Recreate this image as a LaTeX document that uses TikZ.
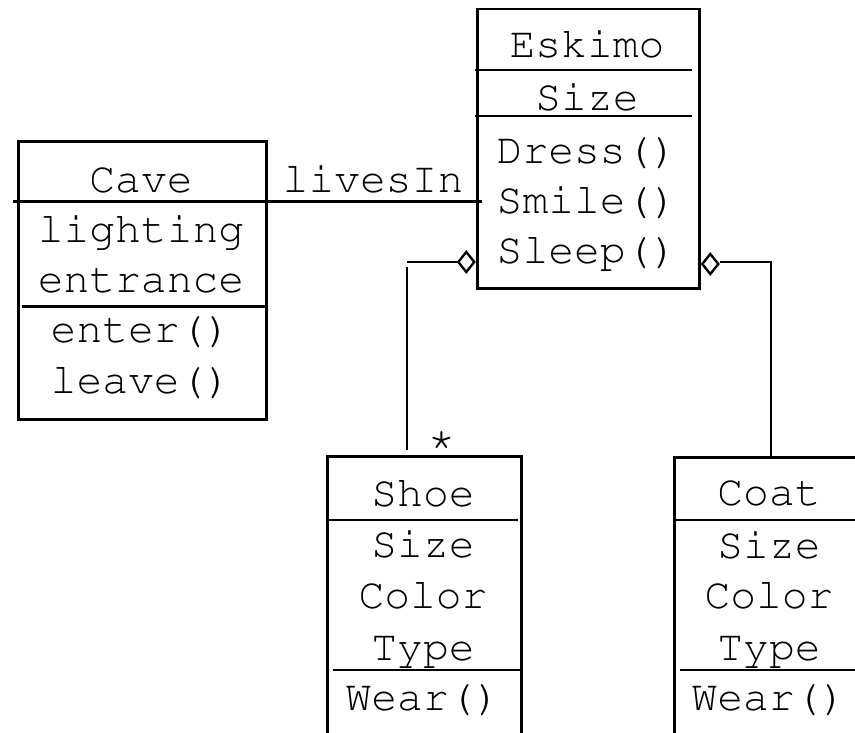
\documentclass[tikz,border=0pt]{standalone}
\usepackage[T1]{fontenc}
\newcommand\umlfont{\fontencoding{T1}\fontfamily{pcr}\selectfont}
\usetikzlibrary{shapes.geometric,calc}
\begin{document}
\begin{tikzpicture}[x=1pt,y=-1pt,
  umlbox/.style={draw, rectangle, line width=2.6pt, inner sep=0pt, anchor=north west},
  rule/.style={line width=2.6pt},
  conn/.style={line width=2.6pt},
  lbl/.style={font=\umlfont\fontsize{43}{50}\selectfont, anchor=base, inner sep=0pt},
  agg/.style={draw, diamond, fill=white, line width=2.4pt, inner sep=0pt,
              minimum width=17pt, minimum height=21pt}]
\clip (0,0) rectangle (855,732);

% class frames
\node[umlbox, minimum width=222pt, minimum height=279.5pt] (eskimo) at (476,7.5) {};
\node[umlbox, minimum width=248pt, minimum height=278pt] (cave) at (17,140) {};
\node[umlbox, minimum width=194pt, minimum height=345pt] (shoe) at (326,455) {};
\node[umlbox, minimum width=193pt, minimum height=345pt] (coat) at (673,456) {};

% Eskimo
\node[lbl] (eskimoName) at (587,57) {Eskimo};
\node[lbl] (eskimoSize) at (587,110) {Size};
\node[lbl] (eskimoDress) at (587,163) {Dress()};
\node[lbl] (eskimoSmile) at (587,213) {Smile()};
\node[lbl] (eskimoSleep) at (587,263) {Sleep()};
\draw[rule] (475,70) -- (692,70);
\draw[rule] (475,116) -- (692,116);

% Cave
\node[lbl] (caveName) at (141,192) {Cave};
\node[lbl] (caveLight) at (141,242) {lighting};
\node[lbl] (caveEntr) at (141,292) {entrance};
\node[lbl] (caveEnter) at (141,342) {enter()};
\node[lbl] (caveLeave) at (141,393) {leave()};
\draw[rule] (13,201.7) -- (cave.east |- 0,201.7);
\draw[rule] (22,306.7) -- (268,306.7);

% Shoe
\node[lbl] (shoeName) at (423,506) {Shoe};
\node[lbl] (shoeSize) at (423,557) {Size};
\node[lbl] (shoeColor) at (423,608) {Color};
\node[lbl] (shoeType) at (423,660) {Type};
\node[lbl] (shoeWear) at (423,710) {Wear()};
\draw[rule] (326,520) -- (518,520);
\draw[rule] (333,670) -- (520,670);

% Coat
\node[lbl] (coatName) at (769,505) {Coat};
\node[lbl] (coatSize) at (769,558) {Size};
\node[lbl] (coatColor) at (769,608) {Color};
\node[lbl] (coatType) at (769,660) {Type};
\node[lbl] (coatWear) at (769,710) {Wear()};
\draw[rule] (673,520) -- (860,520);
\draw[rule] (680,670) -- (860,670);

% association Cave -- Eskimo
\coordinate (livesEnd) at ($(eskimo.west |- 0,201.7)+(6,0)$);
\draw[conn] (cave.east |- 0,201.7) -- (livesEnd);
\node[lbl] (livesIn) at (373,192) {livesIn};

% aggregation Eskimo <>-- Shoe
\node[agg, anchor=east] (aggShoe) at (eskimo.west |- 0,262) {};
\coordinate (shoeBend) at (407,262);
\coordinate (shoeDrop) at (407,267);
\coordinate (shoeEnd) at ($(shoe.north -| shoeDrop)+(0,-5)$);
\draw[conn] (aggShoe.west) -- (shoeBend);
\draw[conn] (shoeDrop) -- (shoeEnd);
\node[lbl, font=\umlfont\fontsize{48}{50}\selectfont] (shoeMult) at (442,452) {*};

% aggregation Eskimo <>-- Coat
\node[agg, anchor=west] (aggCoat) at (eskimo.east |- 0,264) {};
\coordinate (coatBend) at (771,262);
\draw[conn] (aggCoat.east |- coatBend) -- (coatBend) -- (coat.north -| coatBend);
\end{tikzpicture}
\end{document}
